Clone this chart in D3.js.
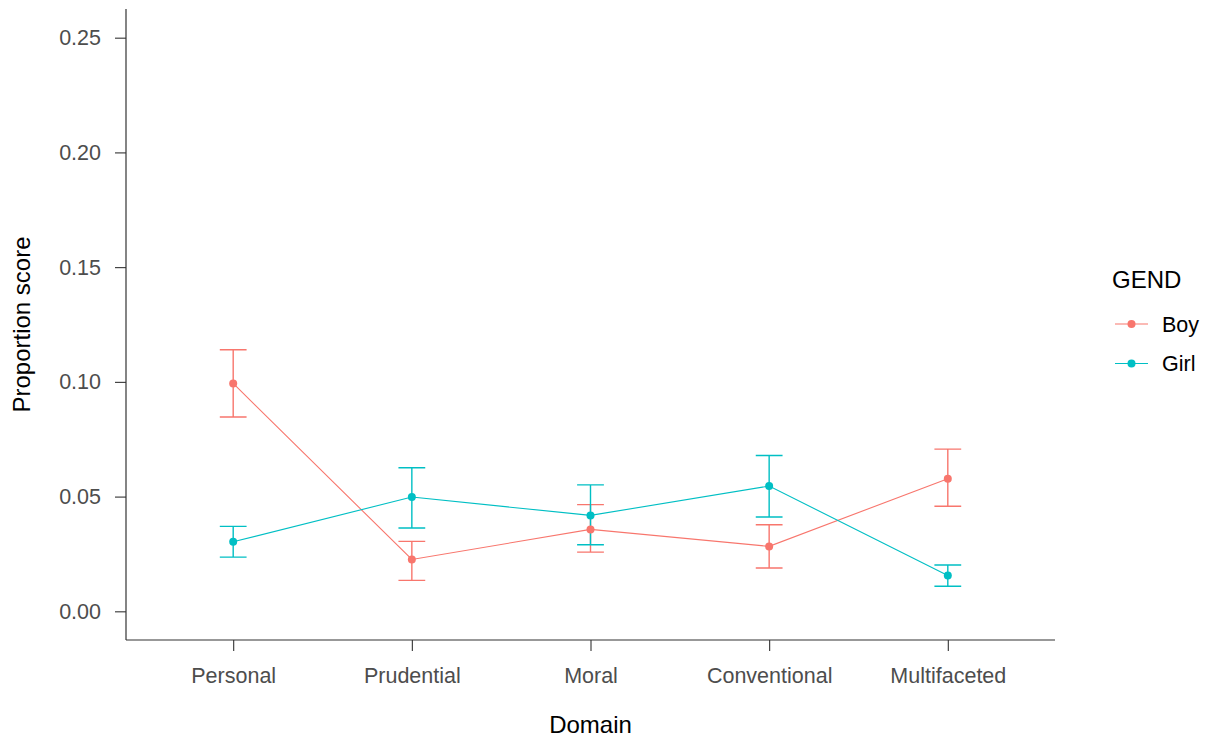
<!DOCTYPE html>
<html>
<head>
<meta charset="utf-8">
<script src="https://cdn.jsdelivr.net/npm/d3@7"></script>
<style>
  html, body { margin: 0; padding: 0; background: #fff; }
  svg { display: block; font-family: "Liberation Sans", Arial, sans-serif; }
</style>
</head>
<body>
<svg id="chart" width="1205" height="740"></svg>
<script>
// Domains on the x axis
const domains = ["Personal", "Prudential", "Moral", "Conventional", "Multifaceted"];
const genders = ["Boy", "Girl"];

// Mean proportion scores and error-bar bounds per gender
const boyMean  = [0.0993, 0.0226, 0.0357, 0.0283, 0.0578];
const boyLow   = [0.0847, 0.0135, 0.0258, 0.0189, 0.0458];
const boyHigh  = [0.1140, 0.0305, 0.0465, 0.0377, 0.0707];

const girlMean = [0.0303, 0.0498, 0.0418, 0.0546, 0.0156];
const girlLow  = [0.0236, 0.0363, 0.0290, 0.0411, 0.0109];
const girlHigh = [0.0370, 0.0626, 0.0551, 0.0679, 0.0202];

const yTicks = [0, 0.05, 0.10, 0.15, 0.20, 0.25];
const colors = ["#F8766D", "#00BFC4"];

const series = [
  { name: "Boy",  mean: boyMean,  low: boyLow,  high: boyHigh },
  { name: "Girl", mean: girlMean, low: girlLow, high: girlHigh }
].map(s => ({
  name: s.name,
  values: domains.map((d, i) => ({ domain: d, mean: s.mean[i], low: s.low[i], high: s.high[i] }))
}));

const svg = d3.select("#chart");
const panel = { left: 126, right: 1055, top: 9, bottom: 640 };
const tickLen = 11;
const pointR = 4;

// Discrete x scale with 0.6 unit padding on each side
const x = d3.scalePoint().domain(domains).range([panel.left, panel.right]).padding(0.6);
const step = x.step();

// Continuous y scale spanning 0..0.25 with 5% expansion
const yMin = 0, yMax = 0.25, ex = (yMax - yMin) * 0.05;
const y = d3.scaleLinear().domain([yMin - ex, yMax + ex]).range([panel.bottom, panel.top]);

const color = d3.scaleOrdinal().domain(genders).range(colors);

// Axes
const xAxis = svg.append("g")
  .attr("transform", `translate(0,${panel.bottom})`)
  .call(d3.axisBottom(x).tickSize(tickLen).tickSizeOuter(0));
const yAxis = svg.append("g")
  .attr("transform", `translate(${panel.left},0)`)
  .call(d3.axisLeft(y).tickValues(yTicks).tickFormat(d3.format(".2f")).tickSize(tickLen).tickPadding(14).tickSizeOuter(0));

[xAxis, yAxis].forEach(g => {
  g.select(".domain").attr("stroke", "#333").attr("stroke-width", 1.2);
  g.selectAll(".tick line").attr("stroke", "#333").attr("stroke-width", 1.1);
  g.selectAll(".tick text").attr("fill", "#4D4D4D").style("font-size", "21.5px");
});
// Axis lines drawn to the panel edges
xAxis.select(".domain").attr("d", `M${panel.left},0H${panel.right}`);
yAxis.select(".domain").attr("d", `M0,${panel.top}V${panel.bottom}`);
xAxis.selectAll(".tick text").attr("y", 43).attr("dy", null);

// Axis titles
svg.append("text")
  .attr("x", (panel.left + panel.right) / 2).attr("y", 733)
  .attr("text-anchor", "middle").attr("fill", "#000")
  .style("font-size", "24px").text("Domain");
svg.append("text")
  .attr("transform", `translate(29.5,${(panel.top + panel.bottom) / 2}) rotate(-90)`)
  .attr("text-anchor", "middle").attr("fill", "#000")
  .style("font-size", "24px").text("Proportion score");

const plot = svg.append("g");
const capHalf = step * 0.15 / 2;

// Connecting lines
const line = d3.line().x(d => x(d.domain)).y(d => y(d.mean));
plot.selectAll(".series-line").data(series).join("path")
  .attr("class", "series-line")
  .attr("fill", "none")
  .attr("stroke", d => color(d.name))
  .attr("stroke-width", 1.1)
  .attr("d", d => line(d.values));

// Error bars
series.forEach(s => {
  const g = plot.append("g").attr("stroke", color(s.name)).attr("stroke-width", 1.4).attr("fill", "none");
  g.selectAll(".eb").data(s.values).join("path")
    .attr("d", d => {
      const cx = x(d.domain), yl = y(d.low), yh = y(d.high);
      return `M${cx - capHalf},${yh}H${cx + capHalf}M${cx},${yh}V${yl}M${cx - capHalf},${yl}H${cx + capHalf}`;
    });
});

// Points
series.forEach(s => {
  plot.append("g").selectAll("circle").data(s.values).join("circle")
    .attr("cx", d => x(d.domain))
    .attr("cy", d => y(d.mean))
    .attr("r", pointR)
    .attr("fill", color(s.name));
});

// Legend
const legend = svg.append("g");
legend.append("text").attr("x", 1112).attr("y", 288)
  .attr("fill", "#000").style("font-size", "24px").text("GEND");
genders.forEach((gname, i) => {
  const cy = 324 + i * 39.5;
  const row = legend.append("g");
  row.append("line").attr("x1", 1115).attr("x2", 1148).attr("y1", cy).attr("y2", cy)
    .attr("stroke", color(gname)).attr("stroke-width", 1.1);
  row.append("circle").attr("cx", 1131.5).attr("cy", cy).attr("r", pointR).attr("fill", color(gname));
  row.append("text").attr("x", 1162).attr("y", cy).attr("dy", "0.36em")
    .attr("fill", "#000").style("font-size", "21.5px").text(gname);
});
</script>
</body>
</html>
